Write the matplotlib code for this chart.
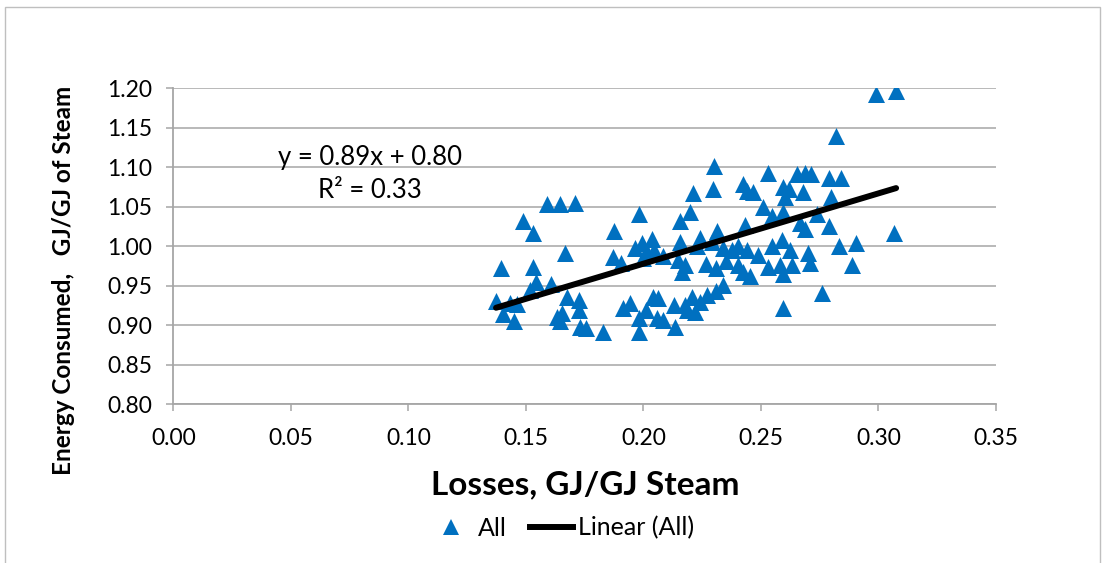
import matplotlib
matplotlib.use('Agg')
import matplotlib.pyplot as plt
from matplotlib.lines import Line2D
from matplotlib.patches import Rectangle
import numpy as np

plt.rcParams['font.family'] = ['Lato', 'DejaVu Sans']

# Losses (GJ/GJ steam) and energy consumed (GJ/GJ of steam)
losses = [
    0.1373, 0.1393, 0.1402, 0.1433, 0.1461, 0.1451, 0.1489, 0.1518, 0.1532, 0.1532,
    0.1543, 0.1589, 0.1607, 0.1631, 0.1646, 0.1646, 0.1653, 0.1667, 0.1674, 0.1709,
    0.1726, 0.1728, 0.1731, 0.1756, 0.1827,
    0.1983, 0.1875, 0.2210, 0.2199, 0.2156, 0.1870, 0.1904, 0.1965, 0.1993, 0.2036,
    0.2014, 0.2043, 0.2000, 0.2085, 0.2156, 0.2149, 0.2241, 0.2227, 0.2177, 0.2163,
    0.2267, 0.1912, 0.1943, 0.2040, 0.2064, 0.2011, 0.1983, 0.2057, 0.2085, 0.2131,
    0.2135, 0.2177, 0.2206, 0.2241, 0.2220, 0.2185, 0.2270, 0.1983,
    0.2301, 0.2295, 0.2532, 0.2423, 0.2440, 0.2468, 0.2593, 0.2653, 0.2688, 0.2681,
    0.2603, 0.2508, 0.2546, 0.2593, 0.2433, 0.2315, 0.2291, 0.2340, 0.2376, 0.2404,
    0.2440, 0.2489, 0.2546, 0.2589, 0.2624, 0.2667, 0.2688, 0.2701, 0.2309, 0.2352,
    0.2404, 0.2423, 0.2454, 0.2532, 0.2579, 0.2593, 0.2709, 0.2340, 0.2309, 0.2593,
    0.2712, 0.2791, 0.2840, 0.2797, 0.2620, 0.2740, 0.2791, 0.3067, 0.2830, 0.2905,
    0.2887, 0.2631, 0.2759, 0.2990, 0.3075, 0.2820,
]
energy = [
    0.931, 0.972, 0.914, 0.928, 0.927, 0.906, 1.032, 0.945, 1.017, 0.974,
    0.955, 1.054, 0.952, 0.911, 1.054, 0.905, 0.915, 0.992, 0.936, 1.055,
    0.919, 0.932, 0.898, 0.897, 0.891,
    1.041, 1.019, 1.067, 1.044, 1.032, 0.986, 0.979, 0.998, 1.004, 1.009,
    0.993, 0.995, 0.985, 0.988, 1.005, 0.983, 1.011, 1.000, 0.976, 0.968,
    0.977, 0.922, 0.928, 0.936, 0.934, 0.919, 0.909, 0.909, 0.907, 0.926,
    0.898, 0.926, 0.936, 0.930, 0.917, 0.919, 0.938, 0.891,
    1.102, 1.072, 1.093, 1.079, 1.070, 1.069, 1.075, 1.092, 1.093, 1.069,
    1.063, 1.050, 1.038, 1.044, 1.027, 1.019, 1.006, 0.998, 0.995, 1.000,
    0.995, 0.989, 1.000, 1.008, 0.995, 1.030, 1.022, 0.992, 0.972, 0.981,
    0.976, 0.967, 0.962, 0.974, 0.976, 0.965, 0.979, 0.951, 0.943, 0.922,
    1.092, 1.086, 1.086, 1.063, 1.073, 1.041, 1.026, 1.017, 1.000, 1.004,
    0.976, 0.976, 0.941, 1.193, 1.197, 1.139,
]

# Excel linear trendline as printed on the chart
trend_slope = 0.89
trend_intercept = 0.80
trend_label = 'y = 0.89x + 0.80\nR² = 0.33'

x_ticks = [0.00, 0.05, 0.10, 0.15, 0.20, 0.25, 0.30, 0.35]
y_ticks = [0.80, 0.85, 0.90, 0.95, 1.00, 1.05, 1.10, 1.15, 1.20]

W, H = 1106, 563
fig = plt.figure(figsize=(W / 100, H / 100), dpi=100)
fig.patch.set_facecolor('white')

# chart-area border (Excel style)
fig.add_artist(Rectangle((5 / W, -0.05), 1095 / W, 1.05 - 7 / H,
                         transform=fig.transFigure, fill=False,
                         edgecolor='#BFBFBF', linewidth=1.0))

ax = fig.add_axes([173.3 / W, 1 - 404.3 / H, (996 - 173.3) / W, (404.3 - 88.3) / H])

blue = '#0070C0'
grid_c = '#A6A6A6'

ax.scatter(losses, energy, marker='^', s=150, color=blue, linewidths=0, zorder=3)

tx = np.array([min(losses), max(losses)])
ax.plot(tx, trend_slope * tx + trend_intercept, color='black', linewidth=4.3,
        solid_capstyle='round', zorder=4)

ax.set_xlim(0, 0.35)
ax.set_ylim(0.80, 1.20)
ax.set_xticks(x_ticks)
ax.set_yticks(y_ticks)
ax.set_xticklabels([f'{v:.2f}' for v in x_ticks])
ax.set_yticklabels([f'{v:.2f}' for v in y_ticks])

ax.yaxis.grid(True, color=grid_c, linewidth=1.1)
ax.set_axisbelow(True)
for s in ['top', 'right']:
    ax.spines[s].set_visible(False)
for s in ['left', 'bottom']:
    ax.spines[s].set_color(grid_c)
    ax.spines[s].set_linewidth(1.3)
ax.tick_params(axis='both', colors=grid_c, length=5, width=1.1, labelcolor='black',
               labelsize=16.5)
ax.tick_params(axis='y', pad=10)
ax.tick_params(axis='x', pad=12)

ax.text(0.0838, 1.0915, trend_label, ha='center', va='center', fontsize=18.5,
        linespacing=1.4, zorder=5)

fig.text(585 / W, 1 - 494 / H, 'Losses, GJ/GJ Steam', ha='center', va='baseline',
         fontsize=24, fontweight='bold')
fig.text(64 / W, 1 - 280 / H, 'Energy Consumed,   GJ/GJ of Steam', ha='center',
         va='center', rotation=90, fontsize=17.5, fontweight='bold')

handles = [
    Line2D([], [], marker='^', linestyle='none', color=blue, markersize=12,
           markeredgewidth=0),
    Line2D([], [], color='black', linewidth=4.3),
]
fig.legend(handles, ['All', 'Linear (All)'], loc='center',
           bbox_to_anchor=(562 / W, 1 - 528 / H), ncol=2, frameon=False,
           fontsize=18, handlelength=1.75, handletextpad=0.2, columnspacing=0.9,
           borderpad=0.2)

fig.savefig('out.png', dpi=100, facecolor='white')
